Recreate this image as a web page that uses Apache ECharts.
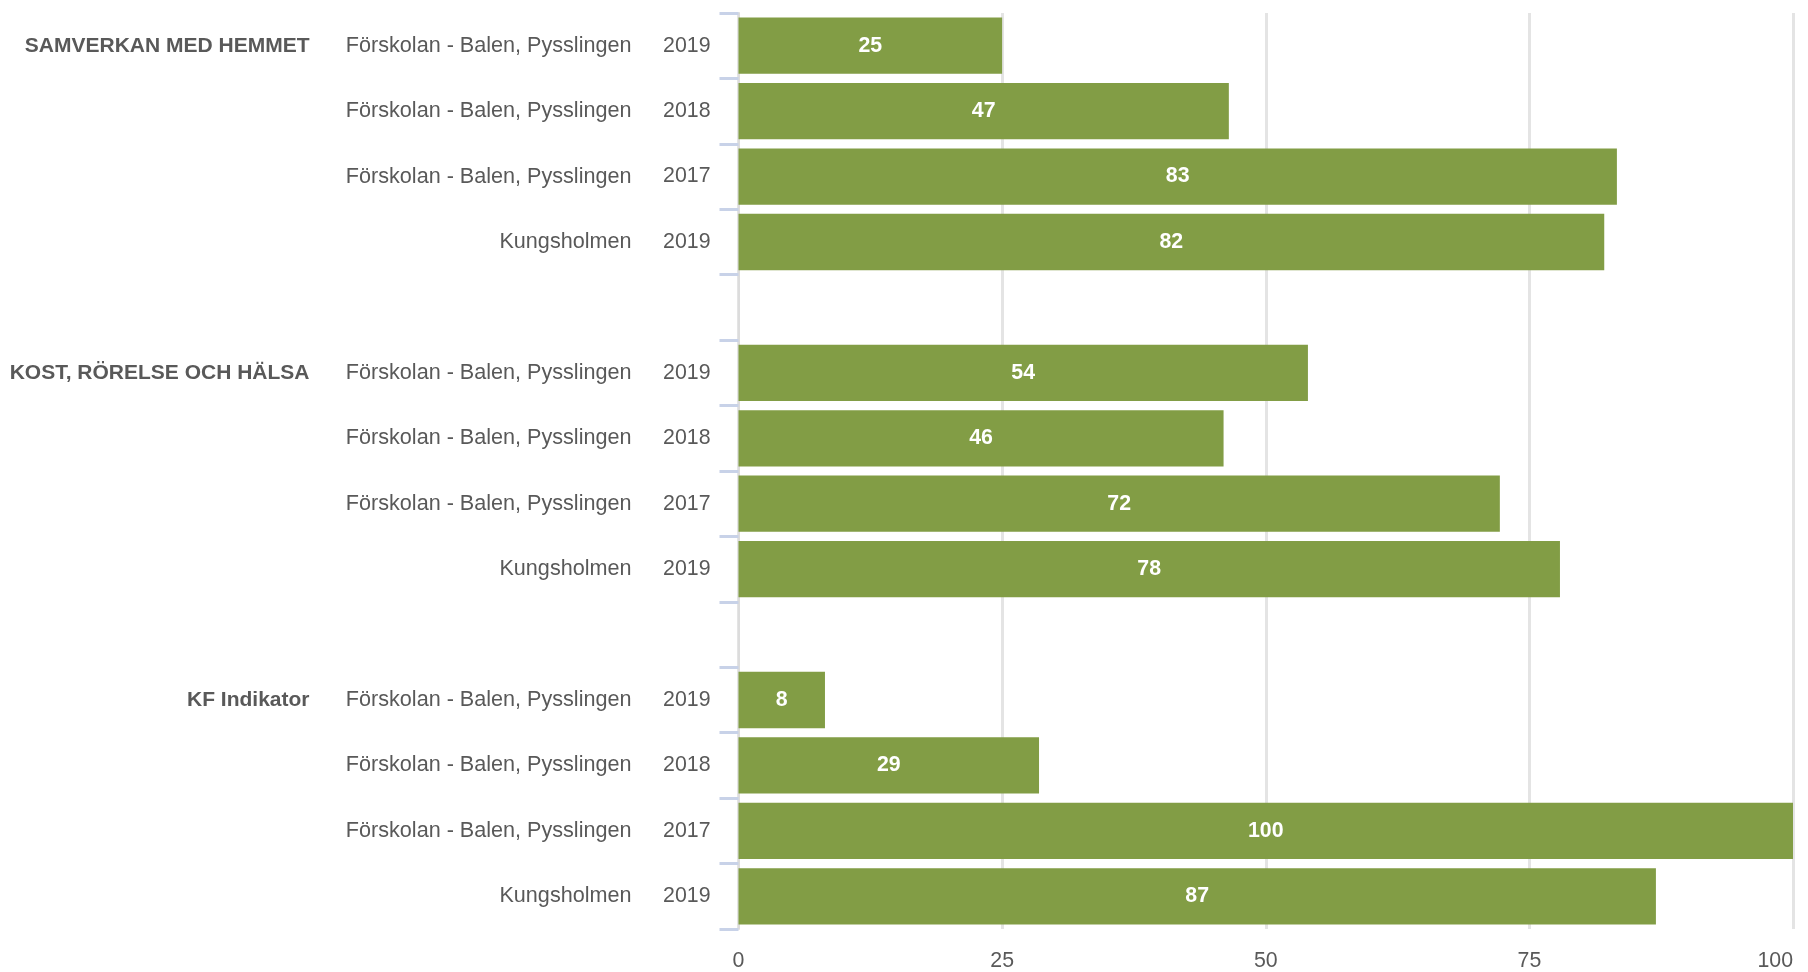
<!DOCTYPE html>
<html>
<head>
<meta charset="utf-8">
<script src="https://cdn.jsdelivr.net/npm/echarts@6/dist/echarts.min.js"></script>
<style>
html,body{margin:0;padding:0;background:#fff;}
#chart{width:1808px;height:972px;}
</style>
</head>
<body>
<div id="chart"></div>
<script>
const groups = ['SAMVERKAN MED HEMMET', 'KOST, RÖRELSE OCH HÄLSA', 'KF Indikator'];
const units = ['Förskolan - Balen, Pysslingen', 'Förskolan - Balen, Pysslingen', 'Förskolan - Balen, Pysslingen', 'Kungsholmen'];
const years = ['2019', '2018', '2017', '2019'];
const valuesSamverkan = [25, 46.5, 83.3, 82.1];
const valuesKost = [54, 46, 72.2, 77.9];
const valuesKF = [8.2, 28.5, 100, 87];
const xTicks = [0, 25, 50, 75, 100];

const groupValues = [valuesSamverkan, valuesKost, valuesKF];
const rows = [];
groupValues.forEach((vals, g) => {
  vals.forEach((v, i) => {
    rows.push({ group: i === 0 ? groups[g] : '', unit: units[i], year: years[i], value: v });
  });
  if (g < groupValues.length - 1) rows.push(null);
});

const FONT = 'Liberation Sans, Arial, sans-serif';
const TXT = '#595959';
const FS = 21.33;

const chart = echarts.init(document.getElementById('chart'), null, { renderer: 'canvas' });
chart.setOption({
  animation: false,
  backgroundColor: '#ffffff',
  grid: { left: 738.5, right: 15, top: 13, bottom: 42, containLabel: false },
  xAxis: {
    type: 'value',
    min: xTicks[0],
    max: xTicks[xTicks.length - 1],
    interval: 25,
    axisLine: { show: false },
    axisTick: { show: false },
    splitLine: { show: true, lineStyle: { color: '#e4e4e4', width: 3 } },
    axisLabel: {
      color: TXT, fontSize: FS, fontFamily: FONT, margin: 22,
      alignMaxLabel: 'right'
    }
  },
  yAxis: {
    type: 'category',
    inverse: true,
    data: rows.map((r, i) => String(i)),
    axisLine: { show: true, lineStyle: { color: '#dcdcdc', width: 2 } },
    axisTick: { show: true, interval: 0, length: 19, lineStyle: { color: '#c8d2e8', width: 3 } },
    axisLabel: {
      interval: 0,
      margin: 28,
      fontFamily: FONT,
      fontSize: FS,
      color: TXT,
      formatter: function (val) {
        const r = rows[+val];
        if (!r) return '';
        return (r.group ? '{g|' + r.group + '}' : '') + '{n|' + r.unit + '}{y|' + r.year + '}';
      },
      rich: {
        g: { fontFamily: FONT, fontSize: 21, fontWeight: 'bold', color: TXT },
        n: { fontFamily: FONT, fontSize: 21.6, color: TXT, width: 322, align: 'right' },
        y: { fontFamily: FONT, fontSize: FS, color: TXT, width: 79, align: 'right' }
      }
    }
  },
  series: [{
    type: 'bar',
    data: rows.map(r => r ? r.value : '-'),
    barCategoryGap: '14%',
    itemStyle: { color: '#829d45' },
    label: {
      show: true,
      position: 'inside',
      color: '#ffffff',
      fontWeight: 'bold',
      fontSize: FS,
      fontFamily: FONT,
      formatter: p => String(Math.round(p.value))
    }
  }]
});
</script>
</body>
</html>
